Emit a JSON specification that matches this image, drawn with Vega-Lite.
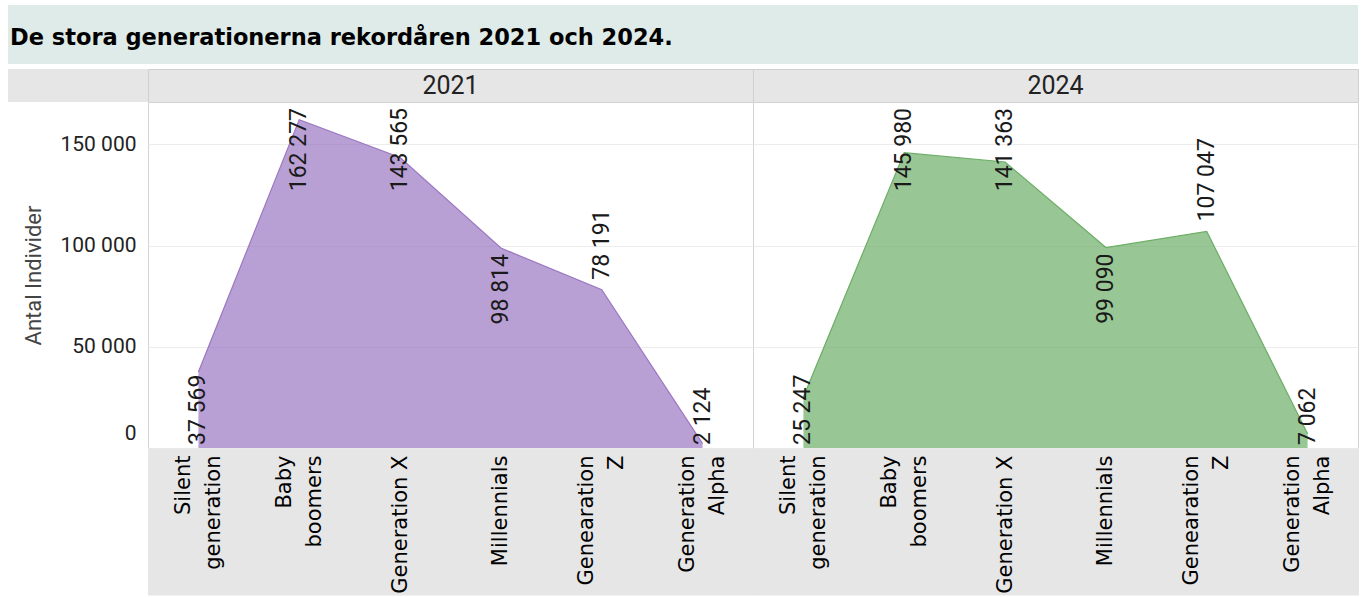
{
  "$schema": "https://vega.github.io/schema/vega-lite/v6.json",
  "background": "white",
  "padding": {"left": 8, "top": 5, "right": 5, "bottom": 2},
  "datasets": {
    "gen": [
      {"year": "2021", "gen": "Silent generation", "n": 37569},
      {"year": "2021", "gen": "Baby boomers", "n": 162277},
      {"year": "2021", "gen": "Generation X", "n": 143565},
      {"year": "2021", "gen": "Millennials", "n": 98814},
      {"year": "2021", "gen": "Genearation Z", "n": 78191},
      {"year": "2021", "gen": "Generation Alpha", "n": 2124},
      {"year": "2024", "gen": "Silent generation", "n": 25247},
      {"year": "2024", "gen": "Baby boomers", "n": 145980},
      {"year": "2024", "gen": "Generation X", "n": 141363},
      {"year": "2024", "gen": "Millennials", "n": 99090},
      {"year": "2024", "gen": "Genearation Z", "n": 107047},
      {"year": "2024", "gen": "Generation Alpha", "n": 7062}
    ]
  },
  "spacing": 5,
  "bounds": "flush",
  "vconcat": [
    {
      "width": 1350,
      "height": 59,
      "view": {"fill": "#deebe8", "stroke": null},
      "title": {
        "text": "De stora generationerna rekordåren 2021 och 2024.",
        "anchor": "start",
        "orient": "top",
        "offset": -55,
        "baseline": "middle",
        "dx": 2,
        "font": "DejaVu Sans",
        "fontSize": 22.5,
        "fontWeight": "bold",
        "color": "#000000"
      },
      "data": {"values": [{}]},
      "mark": {"type": "text"}
    },
    {
      "columns": 3,
      "spacing": 0,
      "bounds": "flush",
      "concat": [
        {
          "width": 140,
          "height": 33,
          "view": {"fill": "#e6e6e6", "stroke": null},
          "data": {"values": [{}]},
          "mark": {"type": "text"}
        },
        {
          "width": 605,
          "height": 33,
          "view": {"fill": "#e6e6e6", "stroke": "#d0d0d0"},
          "data": {"name": "gen"},
          "transform": [
            {"filter": "datum.year == '2021'"},
            {"aggregate": [{"op": "count", "as": "k"}], "groupby": ["year"]}
          ],
          "mark": {"type": "text", "font": "Roboto", "fontSize": 25, "color": "#222222"},
          "encoding": {"text": {"field": "year", "type": "nominal"}}
        },
        {
          "width": 605,
          "height": 33,
          "view": {"fill": "#e6e6e6", "stroke": "#d0d0d0"},
          "data": {"name": "gen"},
          "transform": [
            {"filter": "datum.year == '2024'"},
            {"aggregate": [{"op": "count", "as": "k"}], "groupby": ["year"]}
          ],
          "mark": {"type": "text", "font": "Roboto", "fontSize": 25, "color": "#222222"},
          "encoding": {"text": {"field": "year", "type": "nominal"}}
        },
        {
          "width": 140,
          "height": 346,
          "view": {"fill": null, "stroke": null},
          "data": {"values": [{}]},
          "mark": {"type": "text"}
        },
        {
          "width": 605,
          "height": 346,
          "view": {"fill": "white", "stroke": "#d3d3d3"},
          "data": {"name": "gen"},
          "transform": [{"filter": "datum.year == '2021'"}],
          "encoding": {
            "x": {
              "field": "gen", "type": "nominal", "sort": null,
              "scale": {"type": "point", "padding": 0.5},
              "axis": {
                "title": null, "labelAngle": -90, "labelAlign": "right", "labelBaseline": "middle",
                "labelFont": "DejaVu Sans", "labelFontSize": 21, "labelColor": "#000000", "labelLineHeight": 30,
                "labelExpr": "datum.label == 'Generation X' || datum.label == 'Millennials' ? datum.label : split(datum.label, ' ')",
                "labelOffset": {"condition": {"test": "datum.label == 'Generation X' || datum.label == 'Millennials'", "value": 0}, "value": -15},
                "domain": false, "ticks": true, "tickColor": "#e6e6e6", "tickWidth": 101, "tickSize": 147,
                "labelPadding": -140, "grid": false, "labelLimit": 0
              }
            },
            "y": {
              "field": "n", "type": "quantitative",
              "scale": {"domain": [0, 171000], "nice": false},
              "axis": {
                "title": "Antal Individer", "titleFont": "Roboto", "titleFontSize": 22, "titleFontWeight": "normal",
                "titleColor": "#444444", "titlePadding": 14,
                "values": [0, 50000, 100000, 150000], "format": ",.0f",
                "labelFont": "Roboto", "labelFontSize": 21, "labelColor": "#222222", "labelPadding": 12,
                "ticks": false, "domain": false, "grid": true, "gridColor": "#ececec",
                "labelFlush": true, "labelFlushOffset": -5
              }
            }
          },
          "layer": [
            {
              "mark": {"type": "area", "opacity": 0.7, "line": {"strokeWidth": 1.2, "opacity": 1}},
              "encoding": {
                "color": {"field": "year", "type": "nominal", "scale": {"domain": ["2021", "2024"], "range": ["#9b77c2", "#6cae66"]}, "legend": null}
              }
            },
            {
              "transform": [{"filter": "datum.n > 140000"}],
              "mark": {"type": "text", "angle": -90, "align": "right", "baseline": "middle", "dx": -6, "font": "Roboto", "fontSize": 23, "color": "#1a1a1a"},
              "encoding": {"y": {"datum": 171000}, "text": {"field": "n", "type": "quantitative", "format": ",.0f"}}
            },
            {
              "transform": [{"filter": "datum.n < 40000"}],
              "mark": {"type": "text", "angle": -90, "align": "left", "baseline": "middle", "dx": 3, "font": "Roboto", "fontSize": 23, "color": "#1a1a1a"},
              "encoding": {"y": {"datum": 0}, "text": {"field": "n", "type": "quantitative", "format": ",.0f"}}
            },
            {
              "transform": [{"filter": "datum.gen == 'Genearation Z'"}],
              "mark": {"type": "text", "angle": -90, "align": "left", "baseline": "middle", "dx": 10, "font": "Roboto", "fontSize": 23, "color": "#1a1a1a"},
              "encoding": {"text": {"field": "n", "type": "quantitative", "format": ",.0f"}}
            },
            {
              "transform": [{"filter": "datum.gen == 'Millennials'"}],
              "mark": {"type": "text", "angle": -90, "align": "right", "baseline": "middle", "dx": -6, "font": "Roboto", "fontSize": 23, "color": "#1a1a1a"},
              "encoding": {"text": {"field": "n", "type": "quantitative", "format": ",.0f"}}
            }
          ]
        },
        {
          "width": 605,
          "height": 346,
          "view": {"fill": "white", "stroke": "#d3d3d3"},
          "data": {"name": "gen"},
          "transform": [{"filter": "datum.year == '2024'"}],
          "encoding": {
            "x": {
              "field": "gen", "type": "nominal", "sort": null,
              "scale": {"type": "point", "padding": 0.5},
              "axis": {
                "title": null, "labelAngle": -90, "labelAlign": "right", "labelBaseline": "middle",
                "labelFont": "DejaVu Sans", "labelFontSize": 21, "labelColor": "#000000", "labelLineHeight": 30,
                "labelExpr": "datum.label == 'Generation X' || datum.label == 'Millennials' ? datum.label : split(datum.label, ' ')",
                "labelOffset": {"condition": {"test": "datum.label == 'Generation X' || datum.label == 'Millennials'", "value": 0}, "value": -15},
                "domain": false, "ticks": true, "tickColor": "#e6e6e6", "tickWidth": 101, "tickSize": 147,
                "labelPadding": -140, "grid": false, "labelLimit": 0
              }
            },
            "y": {
              "field": "n", "type": "quantitative",
              "scale": {"domain": [0, 171000], "nice": false},
              "axis": {
                "title": null, "labels": false, "values": [0, 50000, 100000, 150000],
                "ticks": false, "domain": false, "grid": true, "gridColor": "#ececec"
              }
            }
          },
          "layer": [
            {
              "mark": {"type": "area", "opacity": 0.7, "line": {"strokeWidth": 1.2, "opacity": 1}},
              "encoding": {
                "color": {"field": "year", "type": "nominal", "scale": {"domain": ["2021", "2024"], "range": ["#9b77c2", "#6cae66"]}, "legend": null}
              }
            },
            {
              "transform": [{"filter": "datum.n > 140000"}],
              "mark": {"type": "text", "angle": -90, "align": "right", "baseline": "middle", "dx": -6, "font": "Roboto", "fontSize": 23, "color": "#1a1a1a"},
              "encoding": {"y": {"datum": 171000}, "text": {"field": "n", "type": "quantitative", "format": ",.0f"}}
            },
            {
              "transform": [{"filter": "datum.n < 40000"}],
              "mark": {"type": "text", "angle": -90, "align": "left", "baseline": "middle", "dx": 3, "font": "Roboto", "fontSize": 23, "color": "#1a1a1a"},
              "encoding": {"y": {"datum": 0}, "text": {"field": "n", "type": "quantitative", "format": ",.0f"}}
            },
            {
              "transform": [{"filter": "datum.gen == 'Genearation Z'"}],
              "mark": {"type": "text", "angle": -90, "align": "left", "baseline": "middle", "dx": 10, "font": "Roboto", "fontSize": 23, "color": "#1a1a1a"},
              "encoding": {"text": {"field": "n", "type": "quantitative", "format": ",.0f"}}
            },
            {
              "transform": [{"filter": "datum.gen == 'Millennials'"}],
              "mark": {"type": "text", "angle": -90, "align": "right", "baseline": "middle", "dx": -6, "font": "Roboto", "fontSize": 23, "color": "#1a1a1a"},
              "encoding": {"text": {"field": "n", "type": "quantitative", "format": ",.0f"}}
            }
          ]
        }
      ]
    }
  ],
  "config": {
    "locale": {
      "number": {"decimal": ",", "thousands": "\u00a0", "grouping": [3], "currency": ["", "\u00a0kr"]}
    },
    "text": {"font": "Roboto"}
  }
}
